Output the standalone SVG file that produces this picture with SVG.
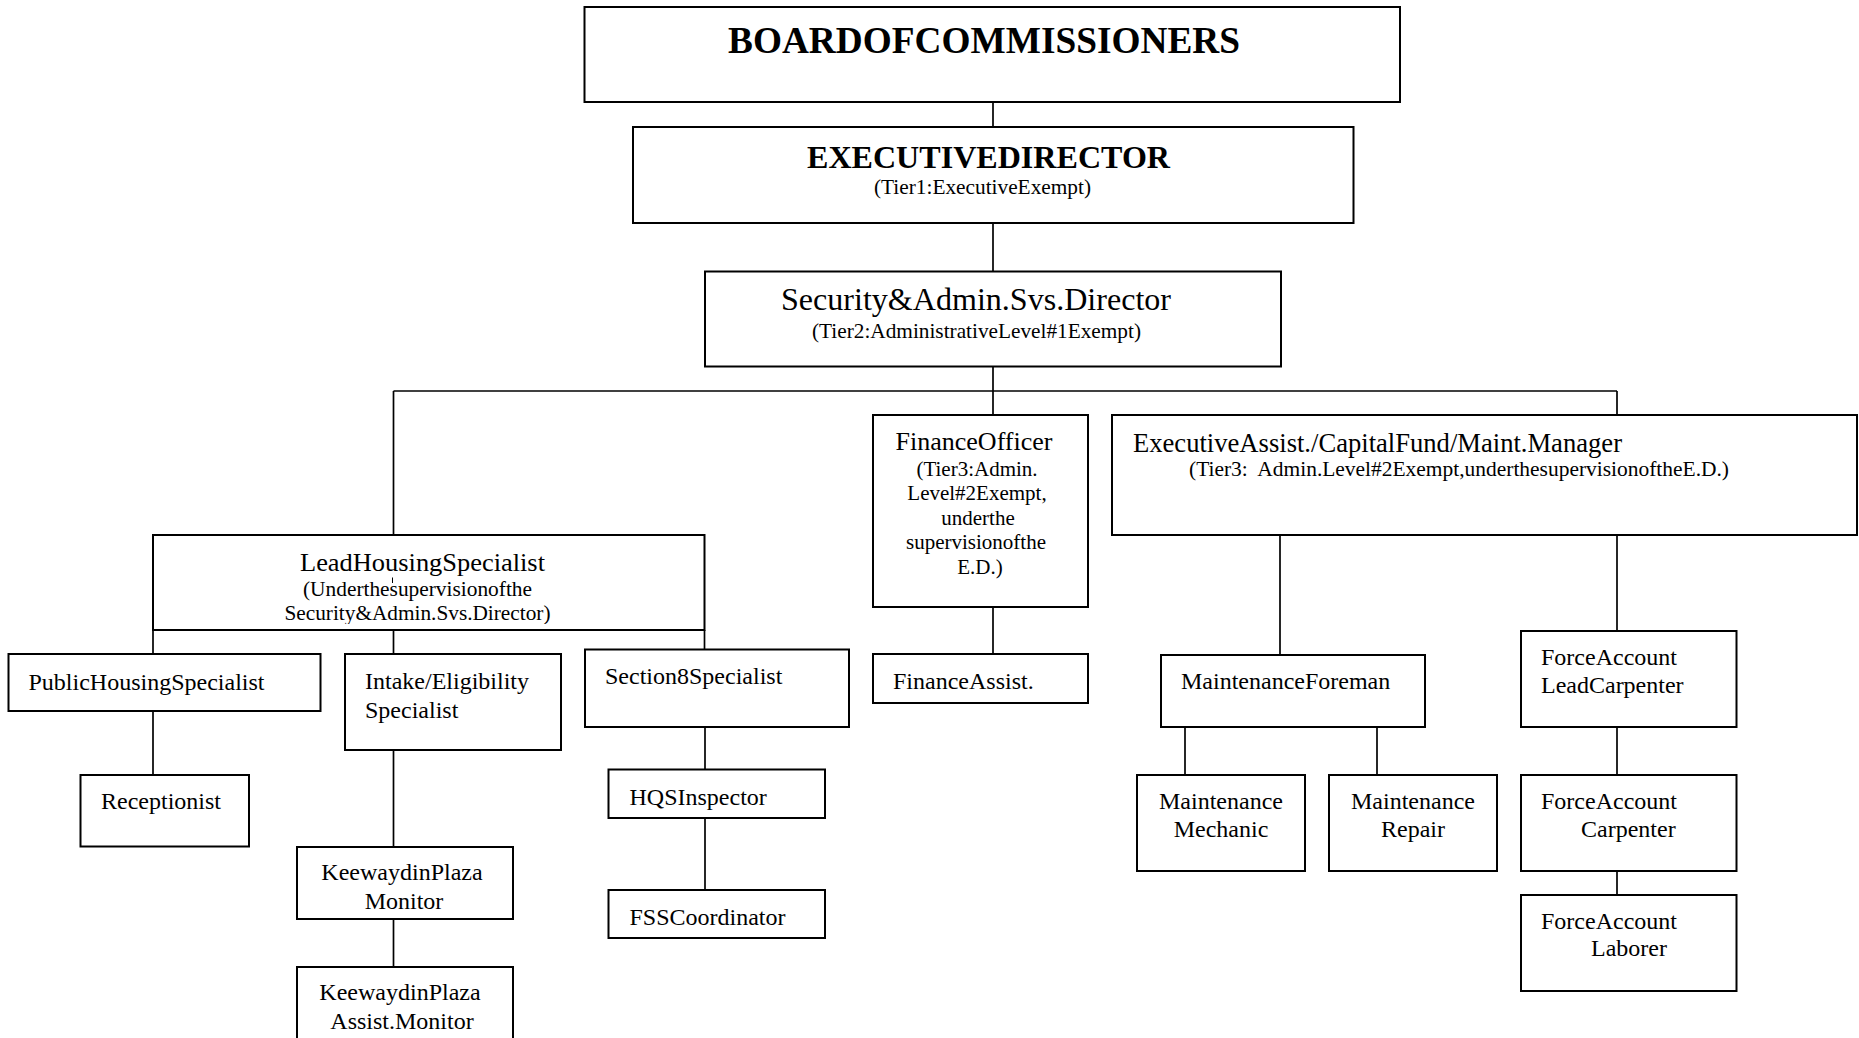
<svg xmlns="http://www.w3.org/2000/svg" width="1859" height="1038" viewBox="0 0 1859 1038">
<style>
.box{fill:#fff;stroke:#000;stroke-width:2}
.c{stroke:#000;stroke-width:1.7;fill:none}
text{font-family:"Liberation Serif","Times New Roman",serif;fill:#000}
.b{font-weight:bold}
.m{text-anchor:middle}
.f24{font-size:24px}
.f21{font-size:21px}
</style>
<defs>
<clipPath id="clipLH"><rect x="150" y="560" width="560" height="64"/></clipPath>
</defs>
<rect width="1859" height="1038" fill="#fff"/>
<g id="connectors">
<line class="c" x1="993" y1="102" x2="993" y2="127"/>
<line class="c" x1="993" y1="223" x2="993" y2="271.5"/>
<line class="c" x1="993" y1="366" x2="993" y2="391"/>
<line class="c" x1="393.5" y1="391" x2="1617" y2="391"/>
<line class="c" x1="393.5" y1="391" x2="393.5" y2="535"/>
<line class="c" x1="993" y1="391" x2="993" y2="415"/>
<line class="c" x1="1617" y1="391" x2="1617" y2="415"/>
<line class="c" x1="153" y1="630" x2="153" y2="654"/>
<line class="c" x1="393.5" y1="630" x2="393.5" y2="654"/>
<line class="c" x1="704.5" y1="630" x2="704.5" y2="650"/>
<line class="c" x1="153" y1="711" x2="153" y2="775"/>
<line class="c" x1="393.5" y1="750" x2="393.5" y2="847"/>
<line class="c" x1="393.5" y1="919" x2="393.5" y2="967"/>
<line class="c" x1="705" y1="727" x2="705" y2="770"/>
<line class="c" x1="705" y1="818" x2="705" y2="890"/>
<line class="c" x1="993" y1="607" x2="993" y2="654"/>
<line class="c" x1="1280" y1="535" x2="1280" y2="655"/>
<line class="c" x1="1617" y1="535" x2="1617" y2="631"/>
<line class="c" x1="1185" y1="727" x2="1185" y2="775"/>
<line class="c" x1="1377" y1="727" x2="1377" y2="775"/>
<line class="c" x1="1617" y1="727" x2="1617" y2="775"/>
<line class="c" x1="1617" y1="871" x2="1617" y2="895"/>
</g>
<g id="board">
<rect class="box" x="584.5" y="7" width="815.5" height="95"/>
<text class="b" x="728" y="53" font-size="38" textLength="512" lengthAdjust="spacingAndGlyphs">BOARDOFCOMMISSIONERS</text>
</g>
<g id="executive-director">
<rect class="box" x="633" y="127" width="720.5" height="96"/>
<text class="b" x="807" y="168" font-size="32" textLength="363" lengthAdjust="spacingAndGlyphs">EXECUTIVEDIRECTOR</text>
<text x="874" y="194" font-size="20" textLength="217" lengthAdjust="spacingAndGlyphs">(Tier1:ExecutiveExempt)</text>
</g>
<g id="security-director">
<rect class="box" x="705" y="271.5" width="576" height="95"/>
<text x="781" y="310" font-size="31" textLength="390" lengthAdjust="spacingAndGlyphs">Security&amp;Admin.Svs.Director</text>
<text x="812" y="338" font-size="21" textLength="329" lengthAdjust="spacingAndGlyphs">(Tier2:AdministrativeLevel#1Exempt)</text>
</g>
<g id="lead-housing">
<rect class="box" x="153" y="535" width="551.5" height="95"/>
<text x="300" y="571" font-size="26" textLength="245" lengthAdjust="spacingAndGlyphs">LeadHousingSpecialist</text>
<text x="303" y="596" font-size="21" textLength="229" lengthAdjust="spacingAndGlyphs">(Underthesupervisionofthe</text>
<line x1="392.5" y1="577.5" x2="392.5" y2="583" stroke="#000" stroke-width="1"/>
<text x="284.5" y="620" font-size="21" textLength="266" lengthAdjust="spacingAndGlyphs" clip-path="url(#clipLH)">Security&amp;Admin.Svs.Director)</text>
</g>
<g id="finance-officer">
<rect class="box" x="873" y="415" width="215" height="192"/>
<text class="m" x="974" y="450" font-size="26">FinanceOfficer</text>
<text class="m f21" x="977" y="476">(Tier3:Admin.</text>
<text class="m f21" x="977" y="500">Level#2Exempt,</text>
<text class="m f21" x="978" y="525">underthe</text>
<text class="m f21" x="976" y="549">supervisionofthe</text>
<text class="m f21" x="980" y="574">E.D.)</text>
</g>
<g id="exec-assist">
<rect class="box" x="1112" y="415" width="745" height="120"/>
<text x="1133" y="452" font-size="28" textLength="489" lengthAdjust="spacingAndGlyphs">ExecutiveAssist./CapitalFund/Maint.Manager</text>
<text x="1189" y="476" font-size="21" textLength="540" lengthAdjust="spacingAndGlyphs" xml:space="preserve">(Tier3:  Admin.Level#2Exempt,underthesupervisionoftheE.D.)</text>
</g>
<g id="public-housing">
<rect class="box" x="8.5" y="654" width="312" height="57"/>
<text class="f24" x="28.5" y="690">PublicHousingSpecialist</text>
</g>
<g id="intake">
<rect class="box" x="345" y="654" width="216" height="96"/>
<text class="f24" x="365" y="689">Intake/Eligibility</text>
<text class="f24" x="365" y="717.5">Specialist</text>
</g>
<g id="section8">
<rect class="box" x="585" y="649.5" width="264" height="77.5"/>
<text class="f24" x="605" y="684">Section8Specialist</text>
</g>
<g id="receptionist">
<rect class="box" x="80.5" y="775" width="168.5" height="71.5"/>
<text class="f24" x="101" y="808.5">Receptionist</text>
</g>
<g id="keewaydin-monitor">
<rect class="box" x="297" y="847" width="216" height="72"/>
<text class="m f24" x="402" y="880">KeewaydinPlaza</text>
<text class="m f24" x="404" y="909">Monitor</text>
</g>
<g id="keewaydin-assist">
<rect class="box" x="297" y="967" width="216" height="80"/>
<text class="m f24" x="400" y="1000">KeewaydinPlaza</text>
<text class="m f24" x="402" y="1029">Assist.Monitor</text>
</g>
<g id="hqs-inspector">
<rect class="box" x="608.5" y="769.5" width="216.5" height="48.5"/>
<text class="f24" x="629.5" y="804.5">HQSInspector</text>
</g>
<g id="fss-coordinator">
<rect class="box" x="608.5" y="890" width="216.5" height="48"/>
<text class="f24" x="629.5" y="924.5">FSSCoordinator</text>
</g>
<g id="finance-assist">
<rect class="box" x="873" y="654" width="215" height="49"/>
<text class="f24" x="893" y="689">FinanceAssist.</text>
</g>
<g id="maint-foreman">
<rect class="box" x="1161" y="655" width="264" height="72"/>
<text class="f24" x="1181" y="689">MaintenanceForeman</text>
</g>
<g id="maint-mechanic">
<rect class="box" x="1137" y="775" width="168" height="96"/>
<text class="m f24" x="1221" y="808.5">Maintenance</text>
<text class="m f24" x="1221" y="836.5">Mechanic</text>
</g>
<g id="maint-repair">
<rect class="box" x="1329" y="775" width="168" height="96"/>
<text class="m f24" x="1413" y="808.5">Maintenance</text>
<text class="m f24" x="1413" y="836.5">Repair</text>
</g>
<g id="fa-lead-carpenter">
<rect class="box" x="1521" y="631" width="215.5" height="96"/>
<text class="f24" x="1541" y="664.5">ForceAccount</text>
<text class="f24" x="1541" y="693">LeadCarpenter</text>
</g>
<g id="fa-carpenter">
<rect class="box" x="1521" y="775" width="215.5" height="96"/>
<text class="f24" x="1541" y="808.5">ForceAccount</text>
<text class="f24" x="1581" y="836.5">Carpenter</text>
</g>
<g id="fa-laborer">
<rect class="box" x="1521" y="895" width="215.5" height="96"/>
<text class="f24" x="1541" y="928.5">ForceAccount</text>
<text class="f24" x="1591" y="956">Laborer</text>
</g>
</svg>
